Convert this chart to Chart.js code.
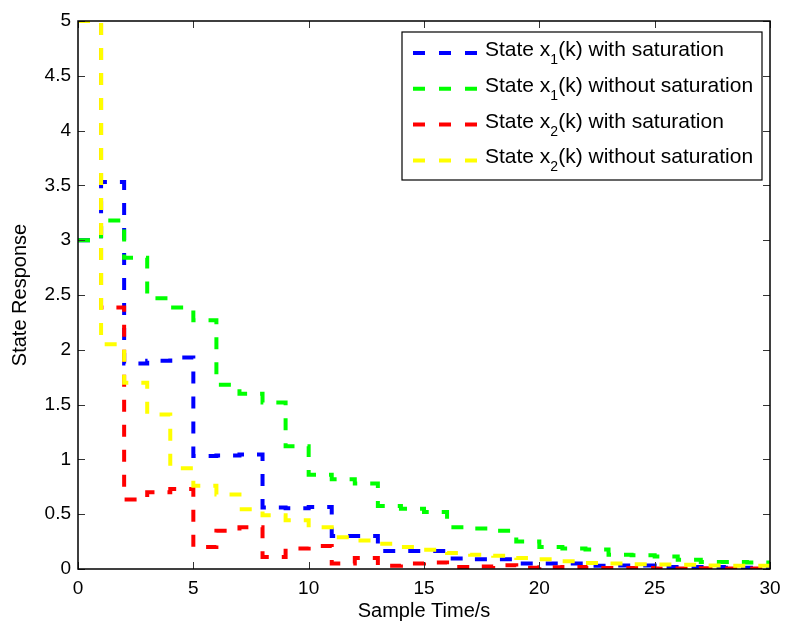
<!DOCTYPE html>
<html>
<head>
<meta charset="utf-8">
<script src="https://cdn.jsdelivr.net/npm/chart.js@4/dist/chart.umd.min.js"></script>
<style>
  body { margin: 0; background: #fff; }
  canvas { display: block; }
</style>
</head>
<body>
<canvas id="stateChart" width="786" height="623"></canvas>
<script>
// sample index k, value held on [k, k+1)
const steps = [0, 1, 2, 3, 4, 5, 6, 7, 8, 9, 10, 11, 12, 13, 14, 15, 16, 17, 18, 19, 20, 21, 22, 23, 24, 25, 26, 27, 28, 29, 30];

const x1Sat = [3.0, 3.53, 1.874, 1.90, 1.93, 1.03, 1.035, 1.045, 0.56, 0.555, 0.565, 0.30, 0.30, 0.164, 0.164, 0.164,
  0.095, 0.088, 0.088, 0.05, 0.05, 0.05, 0.03, 0.033, 0.033, 0.018, 0.018, 0.018, 0.012, 0.012, 0.012];
const x1NoSat = [3.0, 3.18, 2.84, 2.47, 2.385, 2.27, 1.68, 1.60, 1.52, 1.12, 0.86, 0.82, 0.78, 0.575, 0.55, 0.52,
  0.38, 0.37, 0.35, 0.25, 0.20, 0.186, 0.177, 0.13, 0.125, 0.115, 0.085, 0.065, 0.065, 0.06, 0.06];
const x2Sat = [5.0, 2.385, 0.635, 0.70, 0.73, 0.20, 0.35, 0.38, 0.11, 0.186, 0.21, 0.05, 0.10, 0.03, 0.05, 0.06,
  0.018, 0.022, 0.034, 0.012, 0.015, 0.018, 0.008, 0.008, 0.01, 0.005, 0.005, 0.006, 0.004, 0.004, 0.004];
const x2NoSat = [5.0, 2.05, 1.70, 1.41, 0.92, 0.76, 0.68, 0.545, 0.49, 0.445, 0.38, 0.29, 0.26, 0.23, 0.20, 0.175,
  0.145, 0.13, 0.12, 0.10, 0.088, 0.07, 0.055, 0.05, 0.043, 0.04, 0.038, 0.033, 0.03, 0.03, 0.03];

// legend text: [before subscript, subscript, after subscript]
const seriesNames = [
  ['State x', '1', '(k) with saturation'],
  ['State x', '1', '(k) without saturation'],
  ['State x', '2', '(k) with saturation'],
  ['State x', '2', '(k) without saturation']
];
const seriesColors = ['#0000ff', '#00ff00', '#ff0000', '#ffff00'];
const seriesValues = [x1Sat, x1NoSat, x2Sat, x2NoSat];

const xTickLabels = ['0', '5', '10', '15', '20', '25', '30'];
const yTickLabels = ['0', '0.5', '1', '1.5', '2', '2.5', '3', '3.5', '4', '4.5', '5'];

const fontFam = '"Liberation Sans", Arial, Helvetica, sans-serif';

// box, inward ticks and the legend, drawn like a matlab figure
const matlabAxes = {
  id: 'matlabAxes',
  afterDraw(chart) {
    const ctx = chart.ctx;
    const a = chart.chartArea;
    const xs = chart.scales.x, ys = chart.scales.y;
    ctx.save();

    ctx.strokeStyle = '#333';
    ctx.lineWidth = 1;
    ctx.beginPath();
    xs.ticks.forEach(t => {
      const px = Math.round(xs.getPixelForValue(t.value)) + 0.5;
      ctx.moveTo(px, a.bottom); ctx.lineTo(px, a.bottom - 7);
      ctx.moveTo(px, a.top); ctx.lineTo(px, a.top + 7);
    });
    ys.ticks.forEach(t => {
      const py = Math.round(ys.getPixelForValue(t.value)) + 0.5;
      ctx.moveTo(a.left, py); ctx.lineTo(a.left + 7, py);
      ctx.moveTo(a.right, py); ctx.lineTo(a.right - 7, py);
    });
    ctx.stroke();

    ctx.strokeStyle = '#000';
    ctx.lineWidth = 1.5;
    ctx.strokeRect(a.left, a.top, a.right - a.left, a.bottom - a.top);

    // legend
    const lx = a.right - 308, ly = a.top + 11, lw = 360, lh = 148;
    ctx.fillStyle = '#fff';
    ctx.fillRect(lx - 60, ly, lw, lh);
    ctx.lineWidth = 1.2;
    ctx.strokeRect(lx - 60, ly, lw, lh);

    chart.data.datasets.forEach((ds, i) => {
      const rowY = ly + 21 + i * 35.8;
      ctx.setLineDash([12, 14]);
      ctx.lineWidth = 4;
      ctx.strokeStyle = ds.borderColor;
      ctx.beginPath();
      ctx.moveTo(lx - 49, rowY);
      ctx.lineTo(lx + 15, rowY);
      ctx.stroke();
      ctx.setLineDash([]);

      const parts = seriesNames[i];
      let tx = lx + 23;
      const base = rowY + 3;
      ctx.fillStyle = '#000';
      ctx.textBaseline = 'alphabetic';
      ctx.textAlign = 'left';
      ctx.font = '21px ' + fontFam;
      ctx.fillText(parts[0], tx, base);
      tx += ctx.measureText(parts[0]).width;
      ctx.font = '14px ' + fontFam;
      ctx.fillText(parts[1], tx, base + 8);
      tx += ctx.measureText(parts[1]).width;
      ctx.font = '21px ' + fontFam;
      ctx.fillText(parts[2], tx, base);
    });

    ctx.restore();
  }
};

const datasets = seriesValues.map((vals, i) => ({
  label: seriesNames[i].join(''),
  data: steps.map((k, j) => ({ x: k, y: vals[j] })),
  borderColor: seriesColors[i],
  backgroundColor: seriesColors[i],
  borderWidth: 4,
  borderDash: [12, 13],
  borderCapStyle: 'butt',
  stepped: 'before',
  pointRadius: 0,
  fill: false,
  clip: 0,
  order: 4 - i
}));

new Chart('stateChart', {
  type: 'line',
  data: { datasets: datasets },
  options: {
    responsive: false,
    animation: false,
    devicePixelRatio: 1,
    layout: { padding: { top: 21, right: 16, left: 0, bottom: 0 } },
    plugins: {
      legend: { display: false },
      tooltip: { enabled: false }
    },
    scales: {
      x: {
        type: 'linear',
        min: 0,
        max: 30,
        afterFit: s => { s.height = 54; s.paddingLeft = 0; s.paddingRight = 0; },
        grid: { display: false, drawTicks: false },
        border: { display: false },
        ticks: {
          stepSize: 5,
          padding: 8,
          maxRotation: 0,
          color: '#000',
          font: { family: fontFam, size: 19 },
          callback: (v, i) => xTickLabels[i]
        },
        title: {
          display: true,
          text: 'Sample Time/s',
          color: '#000',
          font: { family: fontFam, size: 20 },
          padding: { top: 0, bottom: 0 }
        }
      },
      y: {
        min: 0,
        max: 5,
        afterFit: s => { s.width = 78; },
        grid: { display: false, drawTicks: false },
        border: { display: false },
        ticks: {
          stepSize: 0.5,
          padding: 7,
          color: '#000',
          font: { family: fontFam, size: 19 },
          callback: (v, i) => yTickLabels[i]
        },
        title: {
          display: true,
          text: 'State Response',
          color: '#000',
          font: { family: fontFam, size: 20 },
          padding: { top: 8, bottom: 0 }
        }
      }
    }
  },
  plugins: [matlabAxes]
});
</script>
</body>
</html>
